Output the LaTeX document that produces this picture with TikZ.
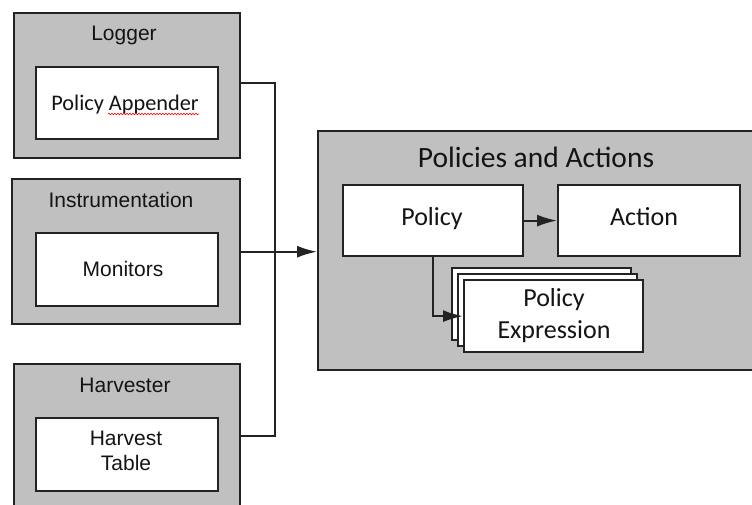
\documentclass[tikz,border=0pt]{standalone}
\usepackage{fontspec}
\setmainfont{Liberation Sans}
\newfontfamily\calibrifont{Carlito}
\usetikzlibrary{arrows.meta,decorations.pathmorphing}
\definecolor{panel}{RGB}{192,192,192}
\definecolor{edge}{RGB}{35,35,35}
\definecolor{ink}{RGB}{20,20,20}
\begin{document}
\begin{tikzpicture}[x=1pt,y=-1pt,
  outer/.style={draw=edge, line width=2.4pt, fill=panel, anchor=north west, inner sep=0pt},
  innerbox/.style={draw=edge, line width=2.2pt, fill=white, anchor=north west, inner sep=0pt},
  arial/.style={font=\fontsize{21}{25}\selectfont, text=ink, inner sep=0pt, align=center},
  cal/.style={font=\calibrifont\fontsize{26}{32}\selectfont, text=ink, inner sep=0pt, align=center},
  calsmall/.style={font=\calibrifont\fontsize{22.3}{26}\selectfont, text=ink, inner sep=0pt},
  caltitle/.style={font=\calibrifont\fontsize{29.5}{34}\selectfont, text=ink, inner sep=0pt},
  wire/.style={draw=edge, line width=2pt},
  tip/.style={-{Latex[length=20pt,width=12pt]}}
]
\useasboundingbox (0,0) rectangle (752,504);
\clip (0,0) rectangle (752,504);
\fill[white] (0,0) rectangle (752,504);

% Logger
\node[outer, minimum width=226pt, minimum height=145pt] (logger) at (13,12) {};
\node[innerbox, minimum width=182pt, minimum height=72pt] (appender) at (35,66) {};
\node[arial, anchor=base] (loggerT) at (124,40) {Logger};
\node[calsmall, anchor=base] (appenderT) at (125,110) {Policy Appender};
\draw[red, line width=0.6pt, decorate, decoration={snake, amplitude=0.8pt, segment length=3pt}]
  (108,114) -- (199,114);

% Instrumentation
\node[outer, minimum width=228pt, minimum height=145pt] (instr) at (11,178) {};
\node[innerbox, minimum width=182pt, minimum height=73pt] (monitors) at (35,232) {};
\node[arial, anchor=base] (instrT) at (121,207) {Instrumentation};
\node[arial, anchor=base] (monitorsT) at (123,276) {Monitors};

% Harvester
\node[outer, minimum width=226pt, minimum height=160pt] (harvester) at (13,363) {};
\node[innerbox, minimum width=182pt, minimum height=73pt] (table) at (35,417) {};
\node[arial, anchor=base] (harvesterT) at (125,392) {Harvester};
\node[arial] (tableT) at (126,451) {Harvest\\Table};

% Policies and Actions
\node[outer, minimum width=460pt, minimum height=239pt] (policies) at (317,130) {};
\node[caltitle, anchor=base] (policiesT) at (536,167) {Policies and Actions};
\node[innerbox, minimum width=180pt, minimum height=71pt] (policy) at (342,184) {};
\node[cal, anchor=base] (policyT) at (432,225) {Policy};
\node[innerbox, minimum width=182pt, minimum height=71pt] (action) at (557,184) {};
\node[cal, anchor=base] (actionT) at (644,225) {Action};
\node[innerbox, minimum width=179pt, minimum height=72pt] (peback) at (451,267) {};
\node[innerbox, minimum width=179pt, minimum height=72pt] (pemid) at (457,273) {};
\node[innerbox, minimum width=179pt, minimum height=72pt] (pefront) at (463,279) {};
\node[cal] (peT) at (554,316) {Policy\\Expression};

% Connectors
\coordinate (bus) at (275,249);
\draw[wire] ([yshift=2.5pt]logger.east) -| (bus) |- ([yshift=-73pt]harvester.north east);
\draw[wire, tip] (instr.east) -- (policies.west |- instr.east);
\draw[wire, tip] (policy.east) -- (action.west);
\draw[wire, tip] (policy.south) |- (pefront.west);
\end{tikzpicture}
\end{document}
